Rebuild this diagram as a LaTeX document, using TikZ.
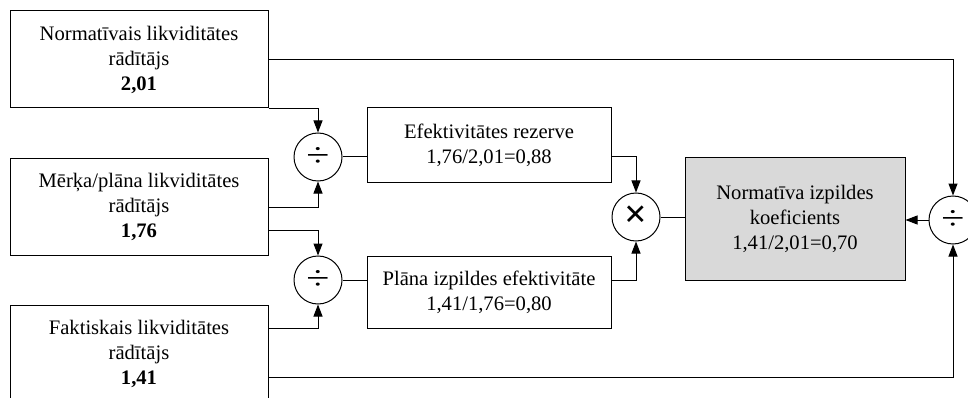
\documentclass[tikz,border=0pt]{standalone}
\usepackage{fontspec}
\setmainfont{Liberation Serif}
\usetikzlibrary{arrows.meta,calc}
\newcommand\opdiv{\scalebox{1}[0.8]{\fontsize{42}{42}\selectfont ÷}}
\tikzset{
    box/.style={draw, line width=1pt, align=center, inner sep=0pt,
        font=\fontsize{20.6}{25}\selectfont},
    op/.style={draw, circle, line width=1pt, minimum size=48pt, inner sep=0pt},
    link/.style={line width=1pt},
    arr/.style={link, -{Triangle[length=12pt,width=9pt]}}
}
\begin{document}
\begin{tikzpicture}[x=1pt, y=-1pt]
\useasboundingbox (0,0) rectangle (968,398);
\foreach\name/\y/\first/\val in{N/59.5/Normatīvais/{2,01},
    M/207/{Mērķa/plāna}/{1,76},
    F/353.5/Faktiskais/{1,41}}{
    \node[box,
        minimum width=258pt,
        minimum height=97pt
    ] (\name) at (139, \y) {\first{} likviditātes\\rādītājs\\\textbf{\val}};
}
\node[op] (D1) at (318, 157) {\opdiv};
\node[op] (D2) at (318, 280) {\opdiv};
\node[op] (X) at (636, 217) {\fontsize{40}{40}\selectfont\textbf{×}};
\node[op] (D3) at (953, 220) {\opdiv};
\node[box, minimum width=244pt, minimum height=74pt] (E) at (489, 145)
    {Efektivitātes rezerve\\1,76/2,01=0,88};
\node[box, minimum width=244pt, minimum height=72pt] (P) at (489, 292)
    {Plāna izpildes efektivitāte\\1,41/1,76=0,80};
\node[box, fill=gray!30, minimum width=220pt, minimum height=122pt] (R) at (795, 219)
    {Normatīva izpildes\\koeficients\\1,41/2,01=0,70};
\draw[arr] (N.south east) -| (D1.north);
\draw[arr] (M.east) -| (D1.south);
\draw[arr] ($(M.east)+(0,23)$) -| (D2.north);
\draw[arr] ($(F.north east)+(0,24)$) -| (D2.south);
\draw[link] (D1.east) -- (D1.east -| E.west);
\draw[link] (D2.east) -- (D2.east -| P.west);
\draw[arr] (E.east |- D1) -| (X.north);
\draw[arr] (P.east |- D2) -| (X.south);
\draw[link] (X.east) -- (X.east -| R.west);
\draw[arr] (N.east) -| (D3.north);
\draw[arr] ($(F.north east)+(0,73)$) -| (D3.south);
\draw[arr] (D3.west) -- (D3.west -| R.east);
\end{tikzpicture}
\end{document}
